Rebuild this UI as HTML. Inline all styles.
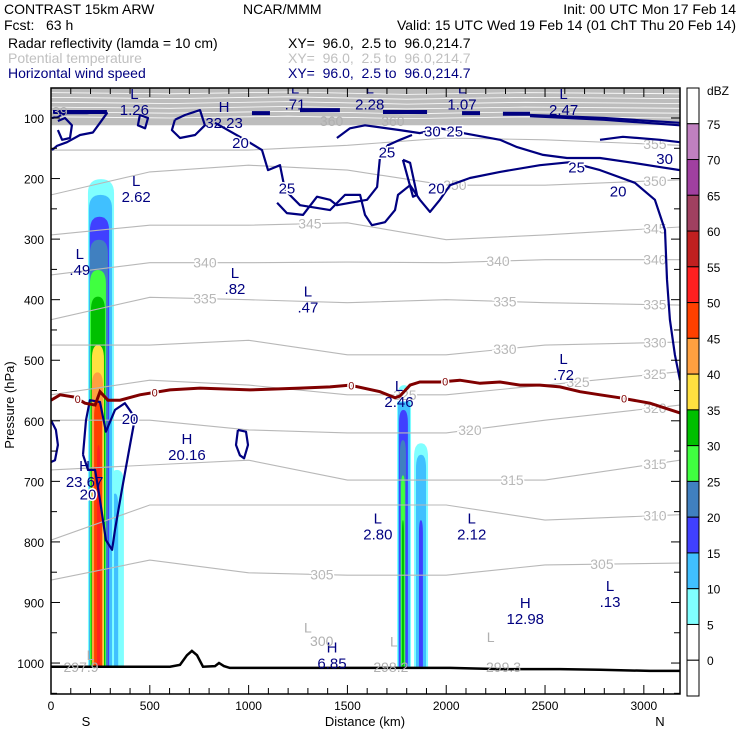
<!DOCTYPE html>
<html><head><meta charset="utf-8"><style>
html,body{margin:0;padding:0;background:#fff;}
svg{display:block;font-family:"Liberation Sans",sans-serif;}
</style></head><body>
<svg id="chart" width="740" height="740" viewBox="0 0 740 740" xmlns="http://www.w3.org/2000/svg">
<rect x="0" y="0" width="740" height="740" fill="#fff"/>
<g font-size="14">
<text x="4" y="14">CONTRAST 15km ARW</text>
<text x="243" y="14">NCAR/MMM</text>
<text x="736" y="14" text-anchor="end">Init: 00 UTC Mon 17 Feb 14</text>
<text x="4" y="30" xml:space="preserve">Fcst:   63 h</text>
<text x="736" y="30" text-anchor="end">Valid: 15 UTC Wed 19 Feb 14 (01 ChT Thu 20 Feb 14)</text>
<text x="8" y="48">Radar reflectivity (lamda = 10 cm)</text>
<text x="288" y="48" xml:space="preserve">XY=  96.0,  2.5 to  96.0,214.7</text>
<text x="8" y="63" fill="#c0c0c0">Potential temperature</text>
<text x="288" y="63" fill="#c0c0c0" xml:space="preserve">XY=  96.0,  2.5 to  96.0,214.7</text>
<text x="8" y="78" fill="#000080">Horizontal wind speed</text>
<text x="288" y="78" fill="#000080" xml:space="preserve">XY=  96.0,  2.5 to  96.0,214.7</text>
</g>
<g id="plot"></g>
</svg>
<script>
// ---------- data ----------
const dbzLevels=[5,10,15,20,25,30,35,40,45,50];
const col1Left=[187,192,197,197,197,202,207,207,218,233];
const col1Right=[319,309,294,288,278,273,268,263,258,248];
const col1Top=[201,227,263,301,351,395,475,520,570,640];
const col1TailLeft=[299,309];
const col1TailRight=[369,340];
const col1TailTop=[681,720];
const col2Left=[1751,1756,1761,1766,1771,1776];
const col2Right=[1822,1817,1806,1796,1791,1786];
const col2Top=[541,557,582,632,690,764];
const col3Left=[1837,1847,1862];
const col3Right=[1908,1898,1882];
const col3Top=[637,656,764];
const barLevels=["75","70","65","60","55","50","45","40","35","30","25","20","15","10","5","0"];
const barColors=["#fff","#c080c0","#a040a0","#a04060","#c02020","#ff2020","#ff4000","#ffa040","#ffe040","#00c000","#40ff40","#4080c0","#4040ff","#40c0ff","#80ffff","#fff","#fff"];
const thetaKm=[0,500,1000,1500,2000,2500,3183];
const thetaLevels=[355,350,345,340,335,330,325,320,315,310,305];
const theta355=[153,153,153,145,133,136,145];
const theta350=[227,189,178,186,211,211,202];
const theta345=[293,277,277,273,301,293,280];
const theta340=[359,339,339,338,339,334,334];
const theta335=[433,396,400,405,400,405,409];
const theta330=[475,475,467,491,491,475,470];
const theta325=[557,533,541,557,557,541,519];
const theta320=[599,599,615,620,620,599,574];
const theta315=[681,673,665,698,698,698,665];
const theta310=[797,739,739,739,739,764,755];
const theta305=[863,830,851,855,855,838,835];
const thetaLabelLevel=[355,350,345,340,335,330,325,320,315,310,305,350,345,340,340,335,335,330,325,325,320,315,305,305];
const thetaLabelKm=[3056,3056,3056,3056,3056,3056,3056,3056,3056,3056,2788,2044,1310,779,2262,779,2297,2297,1791,2667,2120,2333,1371,2788];
const freezeKm=[0,46,121,172,223,248,288,349,450,602,754,1007,1260,1412,1513,1665,1741,1766,1817,1867,1968,2069,2171,2272,2373,2474,2576,2677,2778,2879,3031,3183];
const freezeP=[566,557,561,571,574,552,566,566,557,549,546,549,546,544,541,552,562,559,541,536,536,533,538,536,541,541,544,552,557,562,571,587];
const freezeLabelKm=[135,525,1520,1995,2900];
const terrainKm=[0,602,653,688,713,739,769,830,850,875,905,1260,1766,2019,2272,2576,2778,3031,3183];
const terrainP=[1006,1006,1003,987,980,987,1006,1005,1000,1005,1008,1008,1008,1008,1010,1010,1011,1013,1013];
const w20aKm=[830,982,1068,1098,1159,1184,1260,1412,1488,1564,1589,1624,1690,1741,1756,1817,1867,1918,1968,2019,2120,2272,2474,2626,2778,2955,3056,3107,3117,3132,3157,3183];
const w20aP=[108,136,153,186,178,219,244,252,227,227,260,277,272,252,227,211,235,255,235,211,199,189,178,173,186,207,235,285,367,433,491,533];
const w25aKm=[1144,1194,1275,1346,1412,1447,1513,1599,1650,1665,1705,1766,1827];
const w25aP=[240,257,260,230,235,244,240,235,214,164,145,136,128];
const w25bKm=[1447,1513,1589,1766,1867,1968,2085,2272,2358,2490,2611,2778,2945,3082,3183];
const w25bP=[133,117,112,120,125,117,125,136,148,161,166,166,174,181,186];
const w30Km=[2778,2894,3082,3183];
const w30P=[136,131,136,140];
const w20bKm=[1781,1817,1852,1832,1781];
const w20bP=[169,174,227,230,169];
const w20cKm=[162,177,197,248,278,324,374,425,400,359,324,309,278,248,223,187,162];
const w20cP=[656,599,566,569,618,582,571,595,640,714,780,813,797,731,681,681,656];
const w20dKm=[946,987,997,977,956,936,946];
const w20dP=[615,618,640,662,657,640,615];
const w20eKm=[0,25,35,20,0];
const w20eP=[599,615,640,665,668];
const w20fKm=[5,30,81,147,212,248,283,248,182,147,81,30,5];
const w20fP=[153,146,140,128,124,108,92,90,92,92,92,98,100];
const w25fKm=[35,71,106,96,56,35];
const w25fP=[105,100,112,133,136,120];
const w20gKm=[627,678,754,779,729,653,612,627];
const w20gP=[103,95,87,112,128,133,120,103];
const w20hKm=[450,491,476,440,450];
const w20hP=[95,100,117,112,95];
const jetStartKm=[10,1017,1260,1680,2080,2287];
const jetEndKm=[283,1108,1462,1903,2171,2424];
const jetP=[90,92,87,90,92,93];
const jetTailKm=[2424,2800,3183];
const jetTailP1=[95,100,108];
const jetTailP2=[97,103,112];
const windLabelText=["20","20","20","25","25","20","30","25","20","30","25"];
const windLabelKm=[959,187,400,1194,1700,1950,1930,2043,2870,3105,2660];
const windLabelP=[140,720,595,215,155,215,121,121,220,166,180];
const extremaType=["L","L","H","L","L","L","L","L","L","L","L","L","H","H","L","L","H","L","H"];
const extremaKm=[422,1235,876,1613,2080,2594,431,146,931,1300,2594,1761,688,170,1654,2129,2400,2829,1422];
const extremaP=[59,50,80,50,50,59,202,323,354,385,496,541,628,673,760,760,899,871,973];
const extremaVal=["1.26",".71","32.23","2.28","1.07","2.47","2.62",".49",".82",".47",".72","2.46","20.16","23.67","2.80","2.12","12.98",".13","6.85"];
const grayLabelText=["39","297.9","300","298.2","299.3","360","360","L","L","L","L"];
const grayLabelKm=[45,152,1370,1720,2290,1420,1730,1300,1735,2225,200];
const grayLabelP=[88,1005,962,1005,1005,103,103,940,963,955,985];
const xTicks=[0,500,1000,1500,2000,2500,3000];
const yTicks=[100,200,300,400,500,600,700,800,900,1000];

// ---------- axes ----------
const L=51,R=680,T=88,B=694,KMAX=3183;
function X(km){return L+km*(R-L)/KMAX;}
function Y(p){return 118+(p-100)*0.6056;}
const NS='http://www.w3.org/2000/svg';
const plot=document.getElementById('plot');
function mk(tag,attrs,parent){const e=document.createElementNS(NS,tag);for(const k in attrs)e.setAttribute(k,attrs[k]);(parent||plot).appendChild(e);return e;}
function pts(ks,ps){return ks.map((k,i)=>X(k).toFixed(1)+','+Y(ps[i]).toFixed(1)).join(' ');}
function interp(ks,ps,k){for(let i=0;i<ks.length-1;i++){if(k>=ks[i]&&k<=ks[i+1]){const f=(k-ks[i])/(ks[i+1]-ks[i]);return ps[i]+f*(ps[i+1]-ps[i]);}}return ps[ps.length-1];}

const clip=mk('clipPath',{id:'pc'});
mk('rect',{x:L,y:T,width:R-L,height:B-T},clip);
const g=mk('g',{'clip-path':'url(#pc)'});



// stratospheric theta band
const band=mk('rect',{x:L,y:T,width:R-L,height:Y(112)-T,fill:'#bdbdbd'},g);


for(let i=0;i<6;i++){
  const bl=mk('polyline',{points:pts([0,600,1200,1800,2400,3183],[58+i*8,60+i*8,57+i*8,61+i*8,58+i*8,60+i*8]),fill:'none',stroke:'#fff','stroke-width':0.8},g);
  
  
}

// reflectivity
const colorOf={5:'#80ffff',10:'#40c0ff',15:'#4040ff',20:'#4080c0',25:'#40ff40',30:'#00c000',35:'#ffe040',40:'#ffa040',45:'#ff4000',50:'#ff2020'};
function bullet(x0,x1,top,bot){const xa=X(x0),xb=X(x1),yt=Y(top),yb=Y(bot),r=Math.min(14,(yb-yt)/2),xm=(xa+xb)/2;return `M${xa},${yb} L${xa},${yt+r} Q${xa},${yt} ${xm},${yt} Q${xb},${yt} ${xb},${yt+r} L${xb},${yb} Z`;}
function drawCol(lefts,rights,tops,name){
  for(let i=0;i<lefts.length;i++){
    const p=mk('path',{d:bullet(lefts[i],rights[i],tops[i],1006),fill:colorOf[dbzLevels[i]]},g);
    
    
  }
}
drawCol(col1TailLeft,col1TailRight,col1TailTop,'column1-tail');
drawCol(col1Left,col1Right,col1Top,'column1');
drawCol(col2Left,col2Right,col2Top,'column2');
drawCol(col3Left,col3Right,col3Top,'column3');

// theta contours
const thetaSeries={355:theta355,350:theta350,345:theta345,340:theta340,335:theta335,330:theta330,325:theta325,320:theta320,315:theta315,310:theta310,305:theta305};
thetaLevels.forEach(lv=>{
  const ln=mk('polyline',{points:pts(thetaKm,thetaSeries[lv]),fill:'none',stroke:'#b8b8b8','stroke-width':1.1},g);
  
  
});
thetaLabelLevel.forEach((lv,i)=>{
  const k=thetaLabelKm[i];
  const t=mk('text',{x:X(k),y:Y(interp(thetaKm,thetaSeries[lv],k))+5,'text-anchor':'middle','font-size':14,fill:'#b8b8b8',stroke:'#fff','stroke-width':3,'paint-order':'stroke'},g);
  t.textContent=lv;
  
  
});

// wind contours
const windLines=[[w20aKm,w20aP],[w25aKm,w25aP],[w25bKm,w25bP],[w30Km,w30P],[w20bKm,w20bP],[w20cKm,w20cP],[w20dKm,w20dP],[w20eKm,w20eP],[w20fKm,w20fP],[w25fKm,w25fP],[w20gKm,w20gP],[w20hKm,w20hP]];
windLines.forEach(([ks,ps])=>{
  const ln=mk('polyline',{points:pts(ks,ps),fill:'none',stroke:'#000080','stroke-width':2.2,'stroke-linejoin':'round'},g);
  
  
});
jetStartKm.forEach((k,i)=>{
  const j=mk('line',{x1:X(k),x2:X(jetEndKm[i]),y1:Y(jetP[i]),y2:Y(jetP[i]),stroke:'#000080','stroke-width':4},g);
  
  
});
[jetTailP1,jetTailP2].forEach(ps=>{
  const j=mk('polyline',{points:pts(jetTailKm,ps),fill:'none',stroke:'#000080','stroke-width':2.2},g);
  
  
});
windLabelText.forEach((s,i)=>{
  const t=mk('text',{x:X(windLabelKm[i]),y:Y(windLabelP[i])+6,'text-anchor':'middle','font-size':15,fill:'#000080',stroke:'#fff','stroke-width':3,'paint-order':'stroke'},g);
  t.textContent=s;
  
  
});

// freezing level
const fz=mk('polyline',{points:pts(freezeKm,freezeP),fill:'none',stroke:'#800000','stroke-width':3},g);


freezeLabelKm.forEach(k=>{
  const t=mk('text',{x:X(k),y:Y(interp(freezeKm,freezeP,k))+4,'text-anchor':'middle','font-size':11,fill:'#800000',stroke:'#fff','stroke-width':3,'paint-order':'stroke'},g);
  t.textContent='0';
  
  
});

// terrain
const ter=mk('polyline',{points:pts(terrainKm,terrainP),fill:'none',stroke:'#000','stroke-width':2.5},g);



// extrema labels
extremaType.forEach((s,i)=>{
  const t1=mk('text',{x:X(extremaKm[i]),y:Y(extremaP[i])+6,'text-anchor':'middle','font-size':15,fill:'#000080'},g);
  t1.textContent=s;
  
  
  const t2=mk('text',{x:X(extremaKm[i]),y:Y(extremaP[i])+22,'text-anchor':'middle','font-size':15,fill:'#000080'},g);
  t2.textContent=extremaVal[i];
  
  
});
grayLabelText.forEach((s,i)=>{
  const t=mk('text',{x:X(grayLabelKm[i]),y:Y(grayLabelP[i])+6,'text-anchor':'middle','font-size':14,fill:'#b0b0b0'},g);
  t.textContent=s;
  
  
});

// frame & ticks
const fr=mk('rect',{x:L,y:T,width:R-L,height:B-T,fill:'none',stroke:'#000','stroke-width':1.5});


for(let k=0;k<=KMAX;k+=100){
  const len=(k%500===0)?9:6;
  const tb=mk('line',{x1:X(k),x2:X(k),y1:B,y2:B-len,stroke:'#000','stroke-width':1});
  
  
  const tt=mk('line',{x1:X(k),x2:X(k),y1:T,y2:T+len,stroke:'#000','stroke-width':1});
  
  
}
for(let p=100;p<=1050;p+=50){
  const len=(p%100===0)?9:6;
  const tl=mk('line',{x1:L,x2:L+len,y1:Y(p),y2:Y(p),stroke:'#000','stroke-width':1});
  
  
  const tr=mk('line',{x1:R,x2:R-len,y1:Y(p),y2:Y(p),stroke:'#000','stroke-width':1});
  
  
}
xTicks.forEach(k=>{
  const t=mk('text',{x:X(k),y:710,'text-anchor':'middle','font-size':12});
  t.textContent=k;
  
  
});
yTicks.forEach(p=>{
  const t=mk('text',{x:44,y:Y(p)+5,'text-anchor':'end','font-size':12});
  t.textContent=p;
  
  
});
const xs=mk('text',{x:86,y:726,'text-anchor':'middle','font-size':13});
xs.textContent='S';


const xn=mk('text',{x:660,y:726,'text-anchor':'middle','font-size':13});
xn.textContent='N';


const xt=mk('text',{x:365,y:726,'text-anchor':'middle','font-size':13});
xt.textContent='Distance (km)';


const yt=mk('text',{x:0,y:0,'text-anchor':'middle','font-size':13,transform:'translate(14,405) rotate(-90)'});
yt.textContent='Pressure (hPa)';



// colorbar
const cbT=88,cbB=696,cbX=687,cbW=12,segH=(cbB-cbT)/barColors.length;
barColors.forEach((c,i)=>{
  const r=mk('rect',{x:cbX,y:cbT+i*segH,width:cbW,height:segH,fill:c,stroke:'#000','stroke-width':1});
  
  
});
barLevels.forEach((s,i)=>{
  const t=mk('text',{x:707,y:cbT+(i+1)*segH+5,'font-size':12});
  t.textContent=s;
  
  
});
const du=mk('text',{x:707,y:95,'font-size':12});
du.textContent='dBZ';


</script>
</body></html>
